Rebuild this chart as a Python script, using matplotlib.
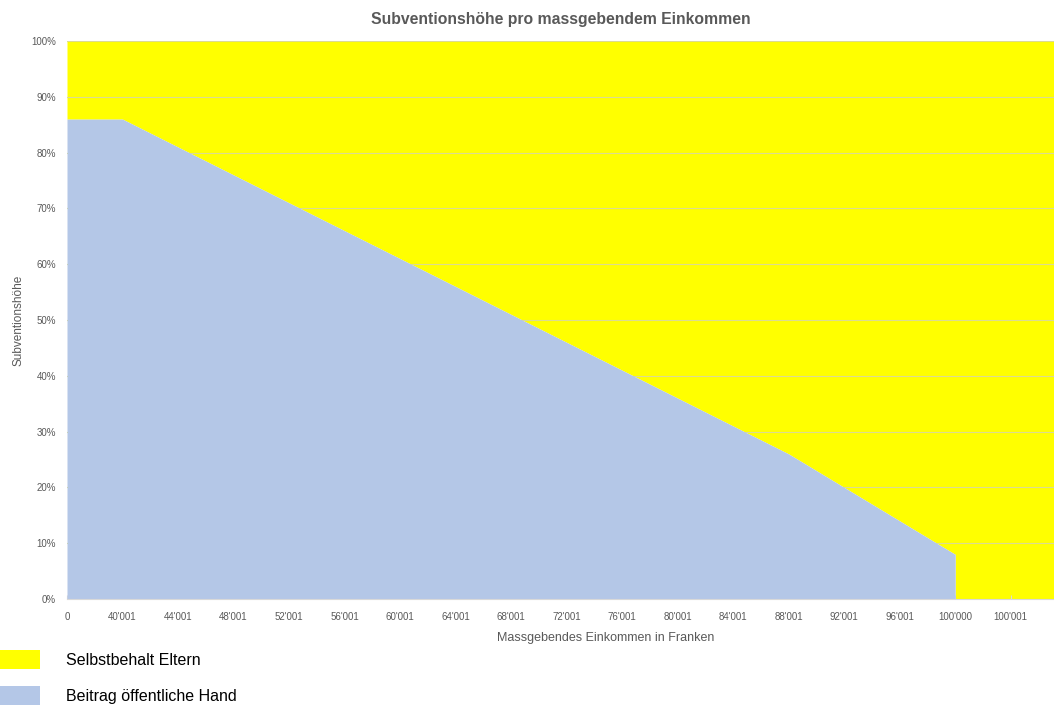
import matplotlib
matplotlib.use("Agg")
import matplotlib.pyplot as plt

plt.rcParams['font.family'] = ['Liberation Sans', 'DejaVu Sans']

# income categories shown on the axis (every 4'000 Franken)
einkommen = ["0", "40'001", "44'001", "48'001", "52'001", "56'001", "60'001",
             "64'001", "68'001", "72'001", "76'001", "80'001", "84'001",
             "88'001", "92'001", "96'001", "100'000", "100'001"]
# public contribution in % at each category (0 above 100'000)
beitrag = [86, 86, 81, 76, 71, 66, 61, 56, 51, 46, 41, 36, 31, 26, 20, 14, 8, 0]
x_end = 17.78  # axis continues past the last label

grey = "#595959"
blue = "#B4C7E7"
yellow = "#FFFF00"

# positions: subsidy stops abruptly at 100'000 (vertical drop)
idx_stop = einkommen.index("100'000")
xs = list(range(idx_stop + 1)) + [idx_stop, x_end]
blue_vals = beitrag[:idx_stop + 1] + [0, 0]
top_vals = [100] * len(xs)

fig = plt.figure(figsize=(10.54, 7.07), dpi=100)
ax = fig.add_axes([67 / 1054, 1 - 599 / 707, 1 - 67 / 1054, (599 - 41) / 707])

ax.fill_between(xs, blue_vals, top_vals, color=yellow, lw=0,
                label="Selbstbehalt Eltern", zorder=1)
for v in range(10, 101, 10):
    ax.axhline(v, color="#dcdc90", lw=0.8, zorder=1.5)
ax.fill_between(xs, 0, blue_vals, color=blue, lw=0, label="Beitrag öffentliche Hand", zorder=2)

ax.set_xlim(0, x_end)
ax.set_ylim(0, 100)
ax.set_xticks(range(len(einkommen)))
ax.set_xticklabels(einkommen)
ax.set_yticks(range(0, 101, 10))
ax.set_yticklabels([f"{v}%" for v in range(0, 101, 10)])
ax.tick_params(axis="x", direction="in", length=3, color="#d9d9d9", labelsize=7,
               labelcolor=grey, pad=9)
ax.tick_params(axis="y", length=0, labelsize=7, labelcolor=grey, pad=8)

for s in ["top", "right", "left"]:
    ax.spines[s].set_visible(False)
ax.spines["bottom"].set_color("#d9d9d9")
ax.spines["bottom"].set_zorder(3)

ax.set_title("Subventionshöhe pro massgebendem Einkommen", fontsize=11.3,
             fontweight="bold", color=grey, pad=12)
ax.set_xlabel("Massgebendes Einkommen in Franken", fontsize=9, color=grey)
ax.xaxis.set_label_coords((606 - 67) / 987, -0.06)
ax.set_ylabel("Subventionshöhe", fontsize=8.5, color=grey)
ax.yaxis.set_label_coords(-42 / 987, 0.5)

fig.legend(loc="lower left", bbox_to_anchor=(-0.009, -0.006), frameon=False,
           fontsize=11.5, handlelength=2.7, handleheight=1.45, handletextpad=1.6,
           labelspacing=1.05, borderaxespad=0.0)

fig.savefig("out.png", dpi=100)
